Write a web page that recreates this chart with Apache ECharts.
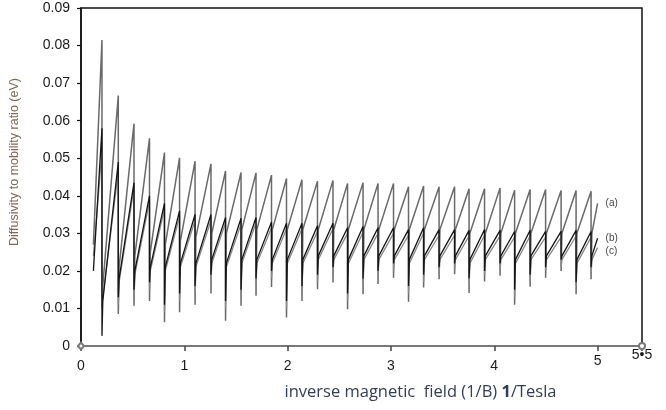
<!DOCTYPE html>
<html>
<head>
<meta charset="utf-8">
<script src="https://cdn.jsdelivr.net/npm/echarts@6/dist/echarts.min.js"></script>
<style>html,body{margin:0;padding:0;background:#fff;}#c{width:666px;height:410px;}</style>
</head>
<body>
<div id="c"></div>
<script>
// x positions (1/Tesla) of the sharp drops of the sawtooth oscillations
const dropX = [0.203, 0.361, 0.513, 0.663, 0.808, 0.954, 1.104, 1.258, 1.399, 1.549, 1.694, 1.844, 1.989, 2.139, 2.289, 2.439, 2.580, 2.730, 2.875, 3.025, 3.170, 3.316, 3.466, 3.616, 3.756, 3.906, 4.056, 4.197, 4.347, 4.497, 4.647, 4.792, 4.937];

// series (a)
const aStart = [0.12, 0.027];
const aPeak = [0.0815, 0.0667, 0.0592, 0.0553, 0.0515, 0.0501, 0.0492, 0.0485, 0.0466, 0.0462, 0.0461, 0.0455, 0.0446, 0.0443, 0.0439, 0.0441, 0.0433, 0.0435, 0.0433, 0.0433, 0.0424, 0.0426, 0.0424, 0.0424, 0.0419, 0.0419, 0.0421, 0.0415, 0.0417, 0.0417, 0.0414, 0.0414, 0.0412];
const aSpike = [0.0125, 0.0085, 0.0107, 0.012, 0.0063, 0.009, 0.011, 0.014, 0.0067, 0.0107, 0.0134, 0.0157, 0.0076, 0.012, 0.0151, 0.0169, 0.0098, 0.0138, 0.0165, 0.0182, 0.0118, 0.0156, 0.0178, 0.0191, 0.0141, 0.0172, 0.0187, 0.011, 0.0158, 0.0182, 0.020, 0.0138, 0.0178];
const aTrough = [0.016, 0.021, 0.024, 0.025, 0.027, 0.028, 0.029, 0.030, 0.030, 0.031, 0.031, 0.031, 0.031, 0.031, 0.031, 0.031, 0.031, 0.031, 0.031, 0.031, 0.031, 0.031, 0.031, 0.031, 0.030, 0.030, 0.030, 0.030, 0.030, 0.030, 0.030, 0.030, 0.030];
const aEnd = [5.0, 0.038];

// series (b)
const bStart = [0.12, 0.020];
const bPeak = [0.058, 0.049, 0.0435, 0.040, 0.038, 0.036, 0.035, 0.035, 0.0342, 0.034, 0.0342, 0.033, 0.0327, 0.0327, 0.032, 0.0327, 0.0315, 0.0318, 0.0315, 0.0315, 0.031, 0.0315, 0.031, 0.031, 0.0308, 0.031, 0.0308, 0.0305, 0.0308, 0.0305, 0.0305, 0.0308, 0.0305];
const bSpike = [0.0027, 0.013, 0.015, 0.017, 0.011, 0.014, 0.016, 0.019, 0.012, 0.015, 0.018, 0.020, 0.012, 0.016, 0.019, 0.021, 0.014, 0.018, 0.020, 0.022, 0.016, 0.019, 0.021, 0.022, 0.018, 0.020, 0.022, 0.015, 0.019, 0.021, 0.023, 0.017, 0.021];
const bTrough = [0.012, 0.018, 0.020, 0.021, 0.021, 0.022, 0.022, 0.023, 0.022, 0.023, 0.023, 0.023, 0.023, 0.023, 0.024, 0.024, 0.023, 0.024, 0.024, 0.024, 0.023, 0.024, 0.024, 0.024, 0.023, 0.024, 0.024, 0.023, 0.024, 0.024, 0.024, 0.023, 0.024];
const bEnd = [5.0, 0.0287];

// series (c)
const cStart = [0.12, 0.024];
const cPeak = [0.052, 0.0465, 0.042, 0.0385, 0.0365, 0.0345, 0.0335, 0.0335, 0.0328, 0.0325, 0.0328, 0.0315, 0.0312, 0.0312, 0.0305, 0.0312, 0.030, 0.0303, 0.030, 0.030, 0.0295, 0.030, 0.0295, 0.0295, 0.0293, 0.0295, 0.0293, 0.029, 0.0293, 0.029, 0.029, 0.0293, 0.029];
const cSpike = [0.010, 0.011, 0.013, 0.015, 0.009, 0.012, 0.014, 0.017, 0.010, 0.013, 0.016, 0.018, 0.010, 0.014, 0.017, 0.019, 0.012, 0.016, 0.018, 0.020, 0.014, 0.017, 0.019, 0.020, 0.016, 0.019, 0.020, 0.013, 0.017, 0.020, 0.021, 0.016, 0.019];
const cTrough = [0.013, 0.017, 0.019, 0.020, 0.020, 0.021, 0.021, 0.022, 0.021, 0.022, 0.022, 0.022, 0.022, 0.022, 0.023, 0.023, 0.022, 0.023, 0.023, 0.023, 0.022, 0.023, 0.023, 0.023, 0.022, 0.023, 0.023, 0.022, 0.023, 0.023, 0.023, 0.022, 0.023];
const cEnd = [5.0, 0.0262];

const seriesNames = ['(a)', '(b)', '(c)'];
const xTickLabels = {0: '0', 1: '1', 2: '2', 3: '3', 4: '4', 5: '5'};
const xEndLabel = '5•5';

const GAP = 0.008;
function build(start, peak, spike, trough, end) {
  const pts = [start];
  for (let i = 0; i < dropX.length; i++) {
    pts.push([dropX[i], peak[i]]);
    pts.push([dropX[i], spike[i]]);
    pts.push([dropX[i] + GAP, trough[i]]);
  }
  pts.push(end);
  return pts;
}

const FONT = "'Liberation Sans', Arial, sans-serif";
const chart = echarts.init(document.getElementById('c'), null, {renderer: 'canvas'});

function lineSeries(name, data, color, width, z, offset) {
  return {
    name: name, type: 'line', data: data, showSymbol: false, symbol: 'none',
    z: z, clip: false,
    lineStyle: {color: color, width: width},
    endLabel: {show: true, formatter: name, color: '#444', fontSize: 10, fontFamily: FONT, distance: 8, offset: offset || [0, 0]},
    emphasis: {disabled: true}
  };
}

chart.setOption({
  animation: false,
  grid: {left: 81, right: 24, top: 8, bottom: 64, show: true, borderColor: '#111', borderWidth: 1.5},
  xAxis: {
    type: 'value', min: 0, max: 5.43, interval: 1,
    splitLine: {show: false},
    axisLine: {lineStyle: {color: '#7a7a7a', width: 2}, symbol: ['emptyDiamond', 'emptyCircle'], symbolSize: [7, 6]},
    axisTick: {show: true, length: 5, lineStyle: {color: '#444', width: 1.5}},
    axisLabel: {
      margin: 8, color: '#1a1a1a', fontSize: 14, fontFamily: FONT, showMaxLabel: true,
      formatter: function (v) {
        if (Math.abs(v - 5.43) < 1e-6) return '{e|' + xEndLabel + '}';
        const k = Math.round(v);
        if (k === 5) return '{m|' + xTickLabels[k] + '}';
        return '{n|' + (xTickLabels[k] !== undefined ? xTickLabels[k] : '') + '}';
      },
      rich: {
        n: {lineHeight: 24, fontSize: 14, color: '#1a1a1a', fontFamily: FONT},
        m: {lineHeight: 14, fontSize: 14, color: '#1a1a1a', fontFamily: FONT},
        e: {lineHeight: 2, fontSize: 14, color: '#1a1a1a', fontFamily: FONT}
      }
    },
    name: '{t|inverse magnetic  field (1/B) }{b|1}{t|/Tesla}',
    nameLocation: 'middle', nameGap: 38,
    nameTextStyle: {
      rich: {
        t: {fontSize: 16.5, fontFamily: "'Open Sans', sans-serif", color: '#333c5a'},
        b: {fontSize: 16.5, fontWeight: 'bold', fontFamily: "'Open Sans', sans-serif", color: '#333c5a'}
      },
      padding: [0, 0, 0, 118]
    }
  },
  yAxis: {
    type: 'value', min: 0, max: 0.09, interval: 0.01,
    splitLine: {show: false},
    axisLine: {lineStyle: {color: '#111', width: 1.5}},
    axisTick: {show: true, length: 4, lineStyle: {color: '#111', width: 1.2}},
    axisLabel: {
      margin: 11, color: '#1a1a1a', fontSize: 14, fontFamily: FONT,
      formatter: function (v) { return v === 0 ? '0' : v.toFixed(2); }
    },
    name: 'Diffusivity to mobility ratio (eV)',
    nameLocation: 'middle', nameGap: 60,
    nameTextStyle: {color: '#7d6a55', fontSize: 12.5, fontFamily: FONT, padding: [0, 0, 0, 30]}
  },
  series: [
    lineSeries(seriesNames[0], build(aStart, aPeak, aSpike, aTrough, aEnd), '#6a6a6a', 1.5, 2),
    lineSeries(seriesNames[2], build(cStart, cPeak, cSpike, cTrough, cEnd), '#888888', 1.3, 3, [0, 4]),
    lineSeries(seriesNames[1], build(bStart, bPeak, bSpike, bTrough, bEnd), '#151515', 1.3, 4, [0, 0])
  ]
});
</script>
</body>
</html>
